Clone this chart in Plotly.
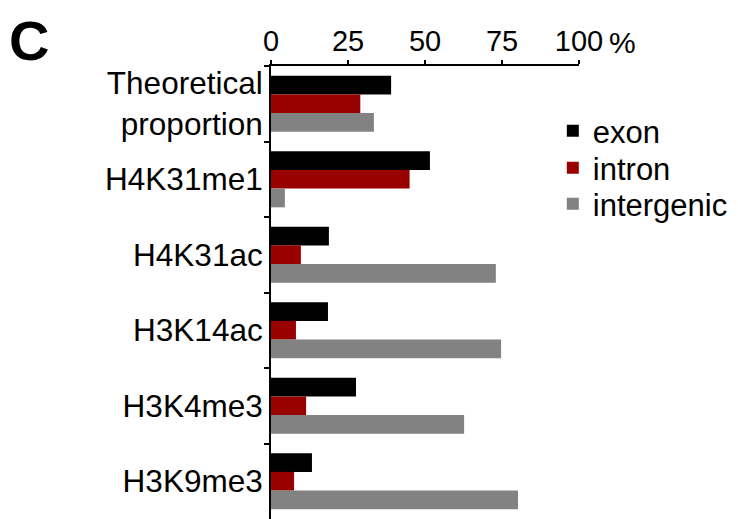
import plotly.graph_objects as go

categories = ["Theoretical<br>proportion", "H4K31me1", "H4K31ac", "H3K14ac", "H3K4me3", "H3K9me3"]
exon = [39, 51.6, 18.8, 18.5, 27.6, 13.3]
intron = [29, 45, 9.7, 8.1, 11.4, 7.5]
intergenic = [33.4, 4.5, 73, 74.7, 62.7, 80.2]
tick_vals = [0, 25, 50, 75, 100]
tick_text = ["0", "25", "50", "75", "100"]
series = [("exon", exon, "#000000", "legend"),
          ("intron", intron, "#990000", "legend2"),
          ("intergenic", intergenic, "#828282", "legend3")]

FONT = "Arial, Liberation Sans, sans-serif"

fig = go.Figure()
for name, vals, col, lg in series:
    fig.add_trace(go.Bar(y=categories, x=vals, name=name, orientation="h",
                         legend=lg, marker=dict(color=col, line=dict(width=0))))

leg_common = dict(xanchor="left", yanchor="middle", font=dict(size=31),
                  bgcolor="rgba(0,0,0,0)", borderwidth=0)
# page has an 8px body margin; plot area top is at page y=66, height 453
plot_top, plot_h = 66, 453
def ly(py):
    return 1 - (py - plot_top) / plot_h

fig.update_layout(
    width=730, height=511,
    margin=dict(l=263, r=159, t=58, b=0, autoexpand=False),
    paper_bgcolor="white", plot_bgcolor="white",
    barmode="group", bargap=0.256, bargroupgap=0,
    font=dict(family=FONT, size=31, color="black"),
    showlegend=True,
    legend=dict(x=0.915, y=ly(131), **leg_common),
    legend2=dict(x=0.915, y=ly(168), **leg_common),
    legend3=dict(x=0.915, y=ly(204), **leg_common),
    xaxis=dict(side="top", range=[0, 100], tickvals=tick_vals, ticktext=tick_text,
               showline=True, linecolor="black", linewidth=2, automargin=False,
               ticks="outside", ticklen=4, tickwidth=2, tickcolor="black",
               tickfont=dict(size=29), ticklabelstandoff=-3,
               showgrid=False, zeroline=False, fixedrange=True),
    yaxis=dict(categoryorder="array", categoryarray=categories, automargin=False,
               range=[5.5, -0.5], showline=True, linecolor="black", linewidth=2,
               ticks="outside", tickson="boundaries", ticklen=5, tickwidth=2,
               tickcolor="black", tickfont=dict(size=31.5),
               showgrid=False, zeroline=False),
    annotations=[
        dict(text="%", x=100, xref="x", y=1, yref="paper", xanchor="left",
             yanchor="middle", xshift=28, yshift=24, showarrow=False,
             font=dict(size=30)),
        dict(text="<b>C</b>", x=0, xref="paper", y=1, yref="paper",
             xanchor="left", yanchor="top", xshift=-263, yshift=58,
             borderpad=0, showarrow=False, font=dict(size=56)),
    ],
)

fig.write_html("out.html")
